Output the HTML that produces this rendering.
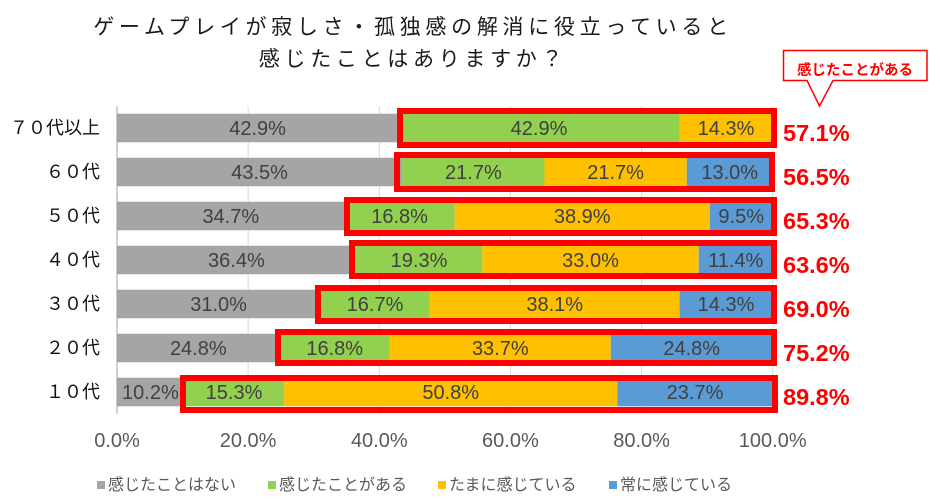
<!DOCTYPE html>
<html><head><meta charset="utf-8">
<style>
html,body{margin:0;padding:0;background:#fff;}
svg{display:block;}
.jp{font-family:"Liberation Sans","Noto Sans CJK JP",sans-serif;}
.lab{font-family:"Liberation Sans",sans-serif;font-size:20px;fill:#404040;}
.ax{font-family:"Liberation Sans",sans-serif;font-size:20px;fill:#595959;}
.red{font-family:"Liberation Sans",sans-serif;font-size:23.5px;font-weight:bold;fill:#ff0000;}
</style></head>
<body>
<svg width="940" height="502" viewBox="0 0 940 502" xmlns="http://www.w3.org/2000/svg">
<rect width="940" height="502" fill="#fff"/>
<!-- title -->
<text class="jp" x="413" y="34" text-anchor="middle" font-size="21" letter-spacing="4.7" fill="#1a1a1a">ゲームプレイが寂しさ・孤独感の解消に役立っていると</text>
<text class="jp" x="413" y="66" text-anchor="middle" font-size="21" letter-spacing="4.7" fill="#1a1a1a">感じたことはありますか？</text>

<!-- gridlines -->
<g stroke="#d9d9d9" stroke-width="1">
<line x1="248.1" y1="106" x2="248.1" y2="414"/>
<line x1="379.3" y1="106" x2="379.3" y2="414"/>
<line x1="510.4" y1="106" x2="510.4" y2="414"/>
<line x1="641.6" y1="106" x2="641.6" y2="414"/>
<line x1="772.7" y1="106" x2="772.7" y2="414"/>
</g>
<line x1="117" y1="106" x2="117" y2="414" stroke="#bfbfbf" stroke-width="1.5"/>

<g>
<!-- 70 -->
<rect x="117" y="113.7" width="281.3" height="28.6" fill="#a5a5a5"/>
<rect x="398.3" y="113.7" width="281.3" height="28.6" fill="#92d050"/>
<rect x="679.6" y="113.7" width="93.1" height="28.6" fill="#ffc000"/>
<!-- 60 -->
<rect x="117" y="157.7" width="285.2" height="28.6" fill="#a5a5a5"/>
<rect x="402.2" y="157.7" width="142.3" height="28.6" fill="#92d050"/>
<rect x="544.5" y="157.7" width="142.3" height="28.6" fill="#ffc000"/>
<rect x="686.8" y="157.7" width="85.9" height="28.6" fill="#5b9bd5"/>
<!-- 50 -->
<rect x="117" y="201.7" width="227.5" height="28.6" fill="#a5a5a5"/>
<rect x="344.5" y="201.7" width="110.2" height="28.6" fill="#92d050"/>
<rect x="454.7" y="201.7" width="255.1" height="28.6" fill="#ffc000"/>
<rect x="709.8" y="201.7" width="62.9" height="28.6" fill="#5b9bd5"/>
<!-- 40 -->
<rect x="117" y="245.7" width="238.7" height="28.6" fill="#a5a5a5"/>
<rect x="355.7" y="245.7" width="126.6" height="28.6" fill="#92d050"/>
<rect x="482.3" y="245.7" width="216.4" height="28.6" fill="#ffc000"/>
<rect x="698.7" y="245.7" width="74" height="28.6" fill="#5b9bd5"/>
<!-- 30 -->
<rect x="117" y="289.7" width="203.3" height="28.6" fill="#a5a5a5"/>
<rect x="320.3" y="289.7" width="109.5" height="28.6" fill="#92d050"/>
<rect x="429.8" y="289.7" width="249.8" height="28.6" fill="#ffc000"/>
<rect x="679.6" y="289.7" width="93.1" height="28.6" fill="#5b9bd5"/>
<!-- 20 -->
<rect x="117" y="333.7" width="162.6" height="28.6" fill="#a5a5a5"/>
<rect x="279.6" y="333.7" width="110.2" height="28.6" fill="#92d050"/>
<rect x="389.8" y="333.7" width="221" height="28.6" fill="#ffc000"/>
<rect x="610.8" y="333.7" width="161.9" height="28.6" fill="#5b9bd5"/>
<!-- 10 -->
<rect x="117" y="377.7" width="66.9" height="28.6" fill="#a5a5a5"/>
<rect x="183.9" y="377.7" width="100.3" height="28.6" fill="#92d050"/>
<rect x="284.2" y="377.7" width="333.1" height="28.6" fill="#ffc000"/>
<rect x="617.3" y="377.7" width="155.4" height="28.6" fill="#5b9bd5"/>
</g>

<g class="lab" text-anchor="middle">
<text x="257.6" y="135">42.9%</text><text x="539" y="135">42.9%</text><text x="726" y="135">14.3%</text>
<text x="259.6" y="179">43.5%</text><text x="473.4" y="179">21.7%</text><text x="615.6" y="179">21.7%</text><text x="729.7" y="179">13.0%</text>
<text x="230.8" y="223">34.7%</text><text x="399.6" y="223">16.8%</text><text x="582.2" y="223">38.9%</text><text x="741.2" y="223">9.5%</text>
<text x="236.4" y="267">36.4%</text><text x="419" y="267">19.3%</text><text x="590.5" y="267">33.0%</text><text x="735.7" y="267">11.4%</text>
<text x="218.6" y="311">31.0%</text><text x="375" y="311">16.7%</text><text x="554.7" y="311">38.1%</text><text x="726" y="311">14.3%</text>
<text x="198.3" y="355">24.8%</text><text x="334.7" y="355">16.8%</text><text x="500.3" y="355">33.7%</text><text x="691.7" y="355">24.8%</text>
<text x="150.4" y="399">10.2%</text><text x="234" y="399">15.3%</text><text x="450.7" y="399">50.8%</text><text x="695" y="399">23.7%</text>
</g>

<g fill="none" stroke="#ff0000" stroke-width="6">
<rect x="400" y="111" width="374" height="34"/>
<rect x="397" y="155" width="375" height="34"/>
<rect x="347" y="200" width="427" height="33"/>
<rect x="352" y="243" width="422" height="33"/>
<rect x="318" y="288" width="456" height="33"/>
<rect x="278" y="332" width="496" height="31"/>
<rect x="183" y="378" width="592" height="32"/>
</g>

<g class="red">
<text x="783" y="141">57.1%</text>
<text x="783" y="185">56.5%</text>
<text x="783" y="229">65.3%</text>
<text x="783" y="273">63.6%</text>
<text x="783" y="317">69.0%</text>
<text x="783" y="361">75.2%</text>
<text x="783" y="405">89.8%</text>
</g>

<g class="jp" font-size="18" fill="#111" text-anchor="end">
<text x="100" y="134">７０代以上</text>
<text x="100" y="178">６０代</text>
<text x="100" y="222">５０代</text>
<text x="100" y="266">４０代</text>
<text x="100" y="310">３０代</text>
<text x="100" y="354">２０代</text>
<text x="100" y="398">１０代</text>
</g>

<g class="ax" text-anchor="middle">
<text x="117" y="447">0.0%</text>
<text x="248.1" y="447">20.0%</text>
<text x="379.3" y="447">40.0%</text>
<text x="510.4" y="447">60.0%</text>
<text x="641.6" y="447">80.0%</text>
<text x="772.7" y="447">100.0%</text>
</g>

<rect x="97" y="481" width="8" height="8" fill="#a5a5a5"/>
<rect x="268" y="481" width="8" height="8" fill="#92d050"/>
<rect x="438" y="481" width="8" height="8" fill="#ffc000"/>
<rect x="609" y="481" width="8" height="8" fill="#5b9bd5"/>
<g class="jp" font-size="16" fill="#595959">
<text x="108" y="490">感じたことはない</text>
<text x="279" y="490">感じたことがある</text>
<text x="449" y="490">たまに感じている</text>
<text x="620" y="490">常に感じている</text>
</g>

<path d="M783.5 50.5 H927 V80.5 H833 L819.5 106 L807 80.5 H783.5 Z" fill="#fff" stroke="#ff0000" stroke-width="1.5"/>
<text class="jp" x="855" y="75" text-anchor="middle" font-size="14.5" font-weight="bold" fill="#ff0000">感じたことがある</text>
</svg>
</body></html>
